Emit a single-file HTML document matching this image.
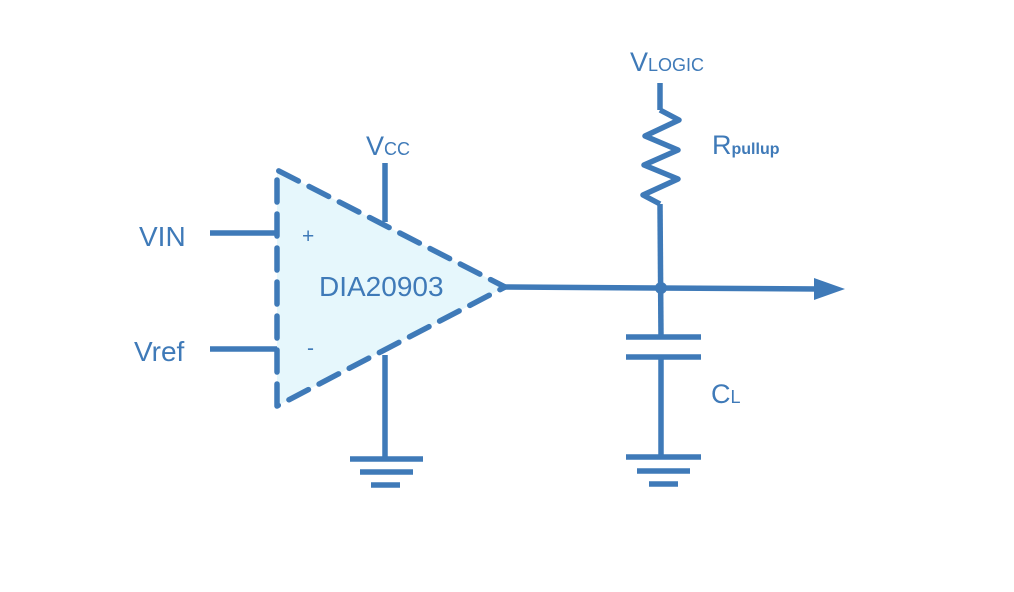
<!DOCTYPE html>
<html><head><style>
html,body{margin:0;padding:0;background:#fff;}
svg{display:block;}
text{font-family:"Liberation Sans",Arial,sans-serif;fill:#3f7ab8;}
</style></head><body>
<svg width="1014" height="592" viewBox="0 0 1014 592" xmlns="http://www.w3.org/2000/svg">
<g stroke="#3f7ab8" stroke-width="5.5" fill="none">
<polygon points="277,170 505,287 277,406" fill="#e6f7fc" stroke="none"/>
<path d="M277,406 L277,170 L505,287 L277,406" stroke-dasharray="22,12" stroke-linejoin="round" stroke-linecap="round"/>
<line x1="385" y1="163" x2="385" y2="222"/>
<line x1="385" y1="355" x2="385" y2="459"/>
<line x1="350" y1="459" x2="423" y2="459"/>
<line x1="360" y1="472" x2="413" y2="472"/>
<line x1="371" y1="485" x2="400" y2="485"/>
<line x1="210" y1="233" x2="277" y2="233"/>
<line x1="210" y1="349" x2="277" y2="349"/>
<line x1="505" y1="287" x2="820" y2="289"/>
<line x1="660" y1="83" x2="660" y2="110"/>
<polyline points="660,110 679,120 645,136 678,150 644,165 678,179 643,195 660,204" stroke-linejoin="round"/>
<line x1="660" y1="204" x2="661" y2="337"/>
<line x1="626" y1="337" x2="701" y2="337"/>
<line x1="626" y1="357" x2="701" y2="357"/>
<line x1="661" y1="357" x2="661" y2="457"/>
<line x1="626" y1="457" x2="701" y2="457"/>
<line x1="637" y1="471" x2="690" y2="471"/>
<line x1="649" y1="484" x2="678" y2="484"/>
</g>
<circle cx="661" cy="288" r="6" fill="#3f7ab8"/>
<polygon points="814,278 845,289 814,300" fill="#3f7ab8"/>
<text x="139" y="246" font-size="28">VIN</text>
<text x="134" y="361" font-size="28">Vref</text>
<text x="302" y="243" font-size="21">+</text>
<text x="307" y="355" font-size="21">-</text>
<text x="319" y="296" font-size="28">DIA20903</text>
<text x="366" y="155" font-size="27">V<tspan font-size="18">CC</tspan></text>
<text x="630" y="71" font-size="27">V<tspan font-size="18">LOGIC</tspan></text>
<text x="712" y="154" font-size="27">R<tspan font-size="16" font-weight="bold">pullup</tspan></text>
<text x="711" y="403" font-size="27">C<tspan font-size="18">L</tspan></text>
</svg>
</body></html>
